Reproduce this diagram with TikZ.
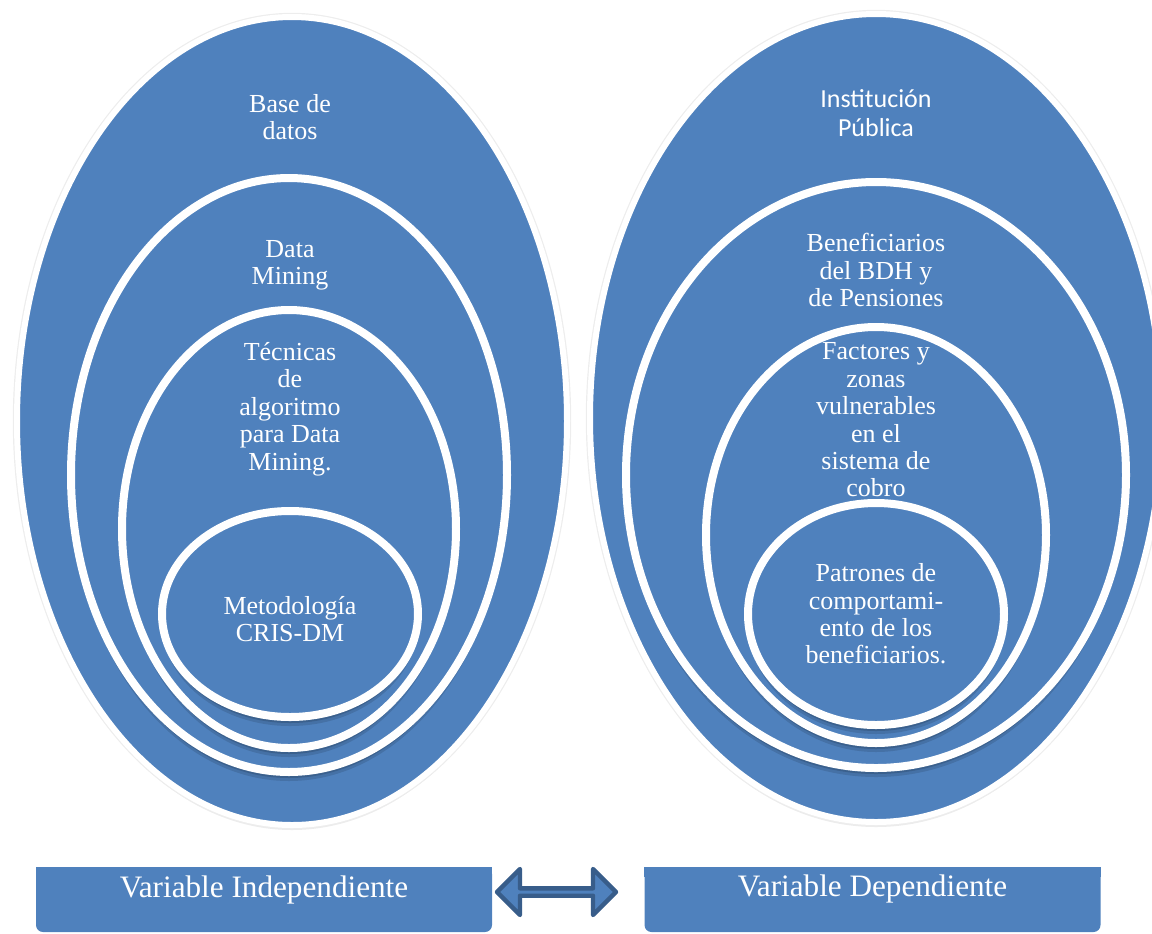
\documentclass[tikz,border=0pt]{standalone}
\usepackage{fontspec}
\setmainfont{Liberation Serif}
\newfontfamily\calibrifont{Carlito}
\usetikzlibrary{shapes.geometric, shapes.arrows, shadows, positioning, calc}
\definecolor{ofblue}{HTML}{4F81BD}
\definecolor{ofdark}{HTML}{385D8A}

\tikzset{
  ring/.style={ellipse, inner sep=0pt, fill=ofblue, draw=white, line width=4pt,
    drop shadow={shadow xshift=0pt, shadow yshift=-4.5pt, opacity=0.12, fill=black},
    drop shadow={shadow xshift=0pt, shadow yshift=-3pt, opacity=0.15, fill=black}},
  outerring/.style={ellipse, inner sep=0pt, fill=ofblue, draw=white, line width=3pt,
    drop shadow={shadow xshift=0pt, shadow yshift=-2.5pt, opacity=0.08, fill=black},
    preaction={draw=black!7, line width=4.2pt}},
  ringtext/.style={text=white, align=center, font=\fontsize{13}{13.7}\selectfont},
  varbox/.style={fill=ofblue, rounded corners=3.5pt, inner sep=0pt,
    minimum width=228pt, minimum height=32.5pt},
  vartext/.style={text=white, font=\fontsize{15.6}{18}\selectfont},
  linkarrow/.style={double arrow, double arrow head extend=5.75pt, inner sep=0pt,
    minimum width=23pt, minimum height=59.5pt, fill=ofblue, draw=ofdark,
    line width=2.2pt, line join=round}
}

\begin{document}
\begin{tikzpicture}[x=0.5pt, y=-0.5pt]
  \useasboundingbox (0,0) rectangle (1152,933);
  \clip (0,0) rectangle (1152,933);

  % Independent variable: nested ellipses
  \node[outerring, minimum width=275pt, minimum height=404pt] (bd) at (292,421) {};
  \node[ringtext] (bd-t) at (290,117) {Base de\\datos};
  \node[ring, minimum width=218pt, minimum height=297pt] (dm) at (289,475) {};
  \node[ringtext] (dm-t) at (290,265) {Data\\Mining};
  \node[ring, minimum width=167pt, minimum height=219pt] (tec) at (289,529) {};
  \node[ringtext] (tec-t) at (290,409) {Técnicas\\de\\algoritmo\\para Data\\Mining.};
  \node[ring, minimum width=128pt, minimum height=103pt] (met) at (290,614) {};
  \node[ringtext] (met-t) at (290,619) {Metodología\\CRIS-DM};

  % Dependent variable: nested ellipses
  \node[outerring, minimum width=286pt, minimum height=404pt] (inst) at (876,418) {};
  \node[ringtext, font=\calibrifont\fontsize{13}{14.5}\selectfont] (inst-t) at (876,113) {Institución\\Pública};
  \node[ring, minimum width=250pt, minimum height=293pt] (ben) at (876,475) {};
  \node[ringtext] (ben-t) at (876,270) {Beneficiarios\\del BDH y\\de Pensiones};
  \node[ring, minimum width=170pt, minimum height=208pt] (fac) at (876,535) {};
  \node[ringtext] (fac-t) at (876,420) {Factores y\\zonas\\vulnerables\\en el\\sistema de\\cobro};
  \node[ring, minimum width=128pt, minimum height=111pt] (pat) at (876,614) {};
  \node[ringtext] (pat-t) at (876,614) {Patrones de\\comportami-\\ento de los\\beneficiarios.};

  % Variable boxes (square top corners)
  \node[varbox] (vi) at (264,899.5) {};
  \fill[ofblue] (vi.north west) rectangle ([yshift=-5pt]vi.north east);
  \node[vartext] (vi-t) at (264,890) {Variable Independiente};
  \node[varbox] (vd) at (872.5,899.5) {};
  \fill[ofblue] (vd.north west) rectangle ([yshift=-5pt]vd.north east);
  \node[vartext] (vd-t) at (872.5,888.5) {Variable Dependiente};

  % Link between both
  \node[linkarrow] (link) at (556.5,892) {};
\end{tikzpicture}
\end{document}
